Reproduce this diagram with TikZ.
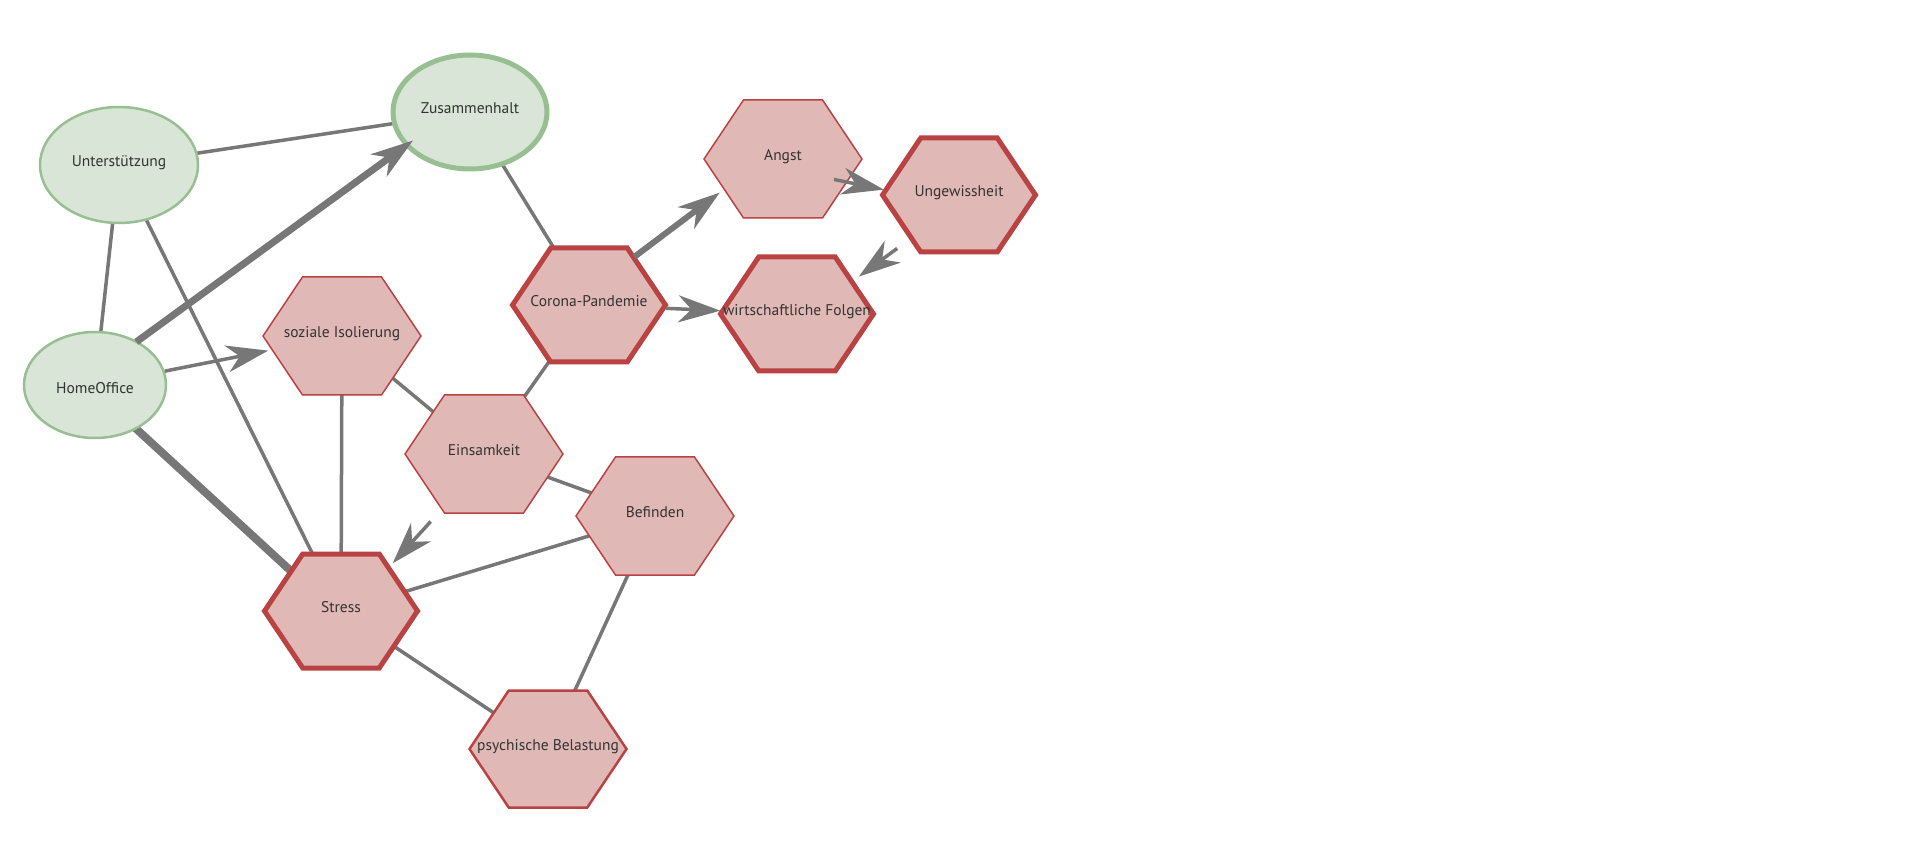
\documentclass[tikz,border=0pt]{standalone}
\usepackage{fontspec}
\setmainfont{PT Sans}
\usetikzlibrary{arrows.meta,shapes.geometric}
\definecolor{gfill}{HTML}{D9E5D6}
\definecolor{gdraw}{HTML}{97BF92}
\definecolor{rfill}{HTML}{E0B9B6}
\definecolor{rdraw}{HTML}{B94242}
\definecolor{edgec}{HTML}{777777}
\definecolor{txt}{HTML}{333333}
\pgfdeclarelayer{back}
\pgfdeclarelayer{front}
\pgfsetlayers{back,main,front}
\tikzset{
  lbl/.style={font=\fontsize{15.5}{18}\selectfont, text=txt, text height=10pt, text depth=7pt},
  conceptlabel/.style={circle, inner sep=0pt, lbl},
  hexshape/.style={draw=rdraw, fill=rfill, line join=miter},
  ellnode/.style={ellipse, draw=gdraw, fill=gfill, inner sep=0pt, lbl},
  plain/.style={draw=edgec, line width=3.5pt},
  arr/.style={draw=edgec, line width=3.5pt, -{Stealth[length=42pt, width=27pt, inset=13pt]}},
}
\newcommand\myhex[7]{%
  \draw[hexshape, line width=#6pt] (#2-#4/2,#3) -- (#2-#4/4,#3-#5/2) -- (#2+#4/4,#3-#5/2) -- (#2+#4/2,#3) -- (#2+#4/4,#3+#5/2) -- (#2-#4/4,#3+#5/2) -- cycle;
  \node[conceptlabel, minimum size=#4pt] (#1) at (#2,#3) {#7};
}
\begin{document}
\begin{tikzpicture}[x=1pt, y=-1pt]
\useasboundingbox (0,0) rectangle (1931,858);
% ellipse nodes
\node[ellnode, minimum width=158pt, minimum height=116pt, line width=2.5pt] (unter) at (119,165) {Unterstützung};
\node[ellnode, minimum width=154pt, minimum height=114pt, line width=5pt] (zus) at (470,112) {Zusammenhalt};
\node[ellnode, minimum width=142pt, minimum height=106pt, line width=2.5pt, text height=17pt, text depth=0pt] (home) at (95,385) {HomeOffice};
% hexagon nodes
\myhex{soz}{342}{336}{158}{118}{1.5}{soziale Isolierung}
\myhex{corona}{589}{305}{153}{114}{5}{Corona-Pandemie}
\myhex{angst}{783}{159}{158}{118}{1.5}{Angst}
\myhex{ungew}{959}{195}{153}{114}{5}{Ungewissheit}
\myhex{wirt}{797}{314}{153}{114}{5}{wirtschaftliche Folgen}
\myhex{einsam}{484}{454}{158}{118}{1.5}{Einsamkeit}
\myhex{befind}{655}{516}{158}{118}{1.5}{Befinden}
\myhex{stress}{341}{611}{153}{114}{5}{Stress}
\myhex{psych}{548}{749}{157}{117}{2.5}{psychische Belastung}
% undirected edges
\begin{pgfonlayer}{back}
\draw[plain] (unter.center) -- (zus.center);
\draw[plain] (unter.center) -- (home.center);
\draw[plain] (unter.center) -- (stress.center);
\draw[plain] (zus.center) -- (corona.center);
\draw[plain] (soz.center) -- (stress.center);
\draw[plain] (soz.center) -- (einsam.center);
\draw[plain] (corona.center) -- (einsam.center);
\draw[plain] (einsam.center) -- (befind.center);
\draw[plain] (befind.center) -- (stress.center);
\draw[plain] (befind.center) -- (psych.center);
\draw[plain] (stress.center) -- (psych.center);
\draw[plain, line width=8pt, transform canvas={yshift=-6pt}] (home.center) -- (stress.center);
\end{pgfonlayer}
% directed edges
\begin{pgfonlayer}{front}
\draw[arr, line width=7pt, transform canvas={yshift=13pt}, shorten <=-13pt] (home) -- (zus);
\draw[arr, shorten >=-4pt] (home) -- (soz);
\draw[arr, line width=6pt, transform canvas={yshift=14pt}, shorten <=-20pt] (corona) -- (angst);
\draw[arr] (corona) -- (wirt);
\draw[arr, shorten <=52pt, transform canvas={yshift=-10pt}] (angst.center) -- (ungew);
\draw[arr, transform canvas={yshift=-8pt}] (ungew) -- (wirt);
\draw[arr, transform canvas={yshift=-9pt}] (einsam) -- (stress);
\end{pgfonlayer}
\end{tikzpicture}
\end{document}
